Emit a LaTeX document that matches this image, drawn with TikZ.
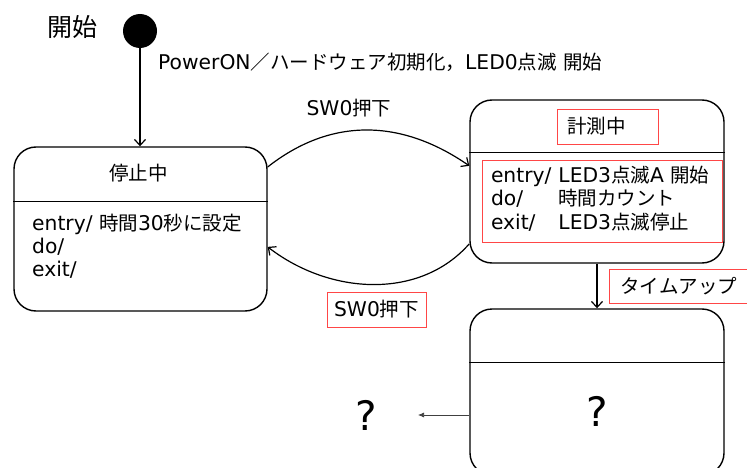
\documentclass[tikz,border=0pt]{standalone}
\usepackage{fontspec}
\setmainfont{Noto Sans CJK JP}
\newfontfamily\latfont{DejaVu Sans}[Scale=1.04]
\newcommand\latn[1]{{\latfont #1}}
\usetikzlibrary{arrows.meta,calc}
\definecolor{boxred}{RGB}{255,70,70}
\begin{document}
\begin{tikzpicture}[x=1pt,y=-1pt,
  state/.style={draw, line width=1.4pt, rounded corners=22pt, inner sep=0pt},
  divider/.style={line width=1.4pt},
  redbox/.style={draw=boxred, line width=0.9pt},
  txt/.style={font=\fontsize{19.5}{23}\selectfont, inner sep=0pt},
  arr/.style={line width=1.2pt, -{Straight Barb[length=6pt,width=11pt]}},
  thinarr/.style={line width=0.7pt, draw=black!75, -{Latex[length=6pt,width=5pt]}},
  big/.style={font=\fontsize{39}{39}\selectfont\latfont, inner sep=0pt},
]
\useasboundingbox (0,0) rectangle (747,468);
\clip (0,0) rectangle (747,468);

% start
\node[font=\fontsize{25}{25}\selectfont, inner sep=0pt] (startlbl) at (72,27) {開始};
\node[circle, fill, minimum size=34pt, inner sep=0pt] (start) at (140,31) {};

% states
\node[state, minimum width=253pt, minimum height=164pt] (A) at (140.5,229) {};
\draw[divider] ($(A.north west)+(0,55)$) -- ($(A.north east)+(0,55)$);
\node[txt] (At) at (138.5,173) {停止中};
\node[txt, anchor=west, align=left] (Ab) at (32,246) {\latn{entry/ }時間\latn{30}秒に設定\\\latn{do/}\\\latn{exit/}};

\node[state, minimum width=254pt, minimum height=163pt] (B) at (597,181.5) {};
\draw[divider] ($(B.north west)+(0,53)$) -- ($(B.north east)+(0,53)$);
\node[redbox, txt, minimum width=101pt, minimum height=35pt, text width=81pt, inner xsep=10pt, align=left] (Bt) at (607.5,126.5) {計測中};
\node[redbox, txt, minimum width=240pt, minimum height=82pt, text width=222pt, inner xsep=9pt, align=left] (Bb) at (602,201) {%
  \begin{tabular}{@{}l@{\hspace{7pt}}l@{}}
  \latn{entry/} & \latn{LED3}点滅\latn{A }開始\\
  \latn{do/} & 時間カウント\\
  \latn{exit/} & \latn{LED3}点滅停止
  \end{tabular}};

\node[state, minimum width=254pt, minimum height=166pt] (C) at (597,392) {};
\draw[divider] ($(C.north west)+(0,54)$) -- ($(C.north east)+(0,54)$);
\node[big] (q2) at (597,411) {?};

% transitions
\draw[arr] (start) -- (start |- A.north);
\node[txt, anchor=west] (pl) at (158,62) {\latn{PowerON}／ハードウェア初期化，\latn{LED0}点滅\latn{ }開始};

\node[txt] (sw1) at (349,108) {\latn{SW0}押下};
\draw[arr] (A.26.8) .. controls (330,118) and (400,118) .. (B.173);

\draw[arr] (B.206.9) .. controls (420,300) and (330,295) .. (A.-8);
\node[redbox, txt, minimum width=99pt, minimum height=35pt] (sw2) at (376.5,309.5) {\latn{SW0}押下};

\draw[arr] (B.south) -- (C.north);
\node[redbox, txt, minimum height=34pt, text width=140pt, inner xsep=11pt, align=left, anchor=west] (tu) at (609,286) {タイムアップ};

\node[big] (q1) at (366,415) {?};
\coordinate (qe) at (418,415);
\draw[thinarr] (C.west |- qe) -- (qe);
\end{tikzpicture}
\end{document}
